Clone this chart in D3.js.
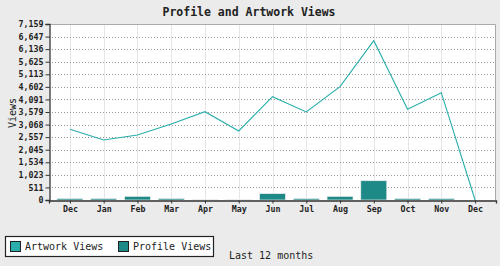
<!DOCTYPE html>
<html>
<head>
<meta charset="utf-8">
<script src="https://cdn.jsdelivr.net/npm/d3@7"></script>
<style>
  body { margin: 0; background: #ebebeb; }
  svg { display: block; font-family: "DejaVu Sans Mono", monospace; }
</style>
</head>
<body>
<div id="chart"></div>
<script>
// last 12 months, first and last are both December
var months = ["Dec", "Jan", "Feb", "Mar", "Apr", "May", "Jun", "Jul", "Aug", "Sep", "Oct", "Nov", "Dec"];
var artworkViews = [2876, 2441, 2644, 3092, 3593, 2807, 4203, 3580, 4610, 6481, 3689, 4366, 0];
var profileViews = [60, 60, 150, 60, 20, 20, 258, 60, 150, 785, 60, 60, 0];
var yTickValues = [0, 511, 1023, 1534, 2045, 2557, 3068, 3579, 4091, 4602, 5113, 5625, 6136, 6647, 7159];
var yMax = 7159;

var colors = { artwork: "#29aeab", profile: "#1d8a87" };

var width = 500, height = 266;
var margin = { top: 24, right: 4, bottom: 66, left: 49 };
var plotW = width - margin.left - margin.right;
var plotH = height - margin.top - margin.bottom;

var svg = d3.select("#chart").append("svg")
  .attr("width", width)
  .attr("height", height);

svg.append("text")
  .attr("x", 249)
  .attr("y", 16)
  .attr("text-anchor", "middle")
  .attr("font-size", "11.5px")
  .attr("font-weight", "bold")
  .attr("fill", "#222")
  .text("Profile and Artwork Views");

var g = svg.append("g").attr("transform", "translate(" + margin.left + "," + margin.top + ")");

var x = d3.scalePoint()
  .domain(d3.range(months.length))
  .range([0, plotW])
  .padding(0.62);

var y = d3.scaleLinear()
  .domain([0, yMax])
  .range([plotH, 0]);

g.append("rect")
  .attr("width", plotW)
  .attr("height", plotH)
  .attr("fill", "#fff");

// vertical grid
g.append("g").selectAll("line")
  .data(x.domain())
  .enter().append("line")
  .attr("x1", function(d) { return Math.round(x(d)) + 0.5; })
  .attr("x2", function(d) { return Math.round(x(d)) + 0.5; })
  .attr("y1", 0)
  .attr("y2", plotH)
  .attr("stroke", "#e6e6e6");

// horizontal dotted grid
g.append("g").selectAll("line")
  .data(yTickValues.slice(1, -1))
  .enter().append("line")
  .attr("x1", 0)
  .attr("x2", plotW)
  .attr("y1", function(d) { return Math.round(y(d)) + 0.5; })
  .attr("y2", function(d) { return Math.round(y(d)) + 0.5; })
  .attr("stroke", "#999")
  .attr("stroke-dasharray", "1,2");

// top and right border
g.append("path")
  .attr("d", "M0,0.5H" + (plotW - 0.5) + "V" + plotH)
  .attr("fill", "none")
  .attr("stroke", "#aaa");

var barW = 26;
g.append("g").selectAll("rect")
  .data(profileViews)
  .enter().append("rect")
  .attr("x", function(d, i) { return x(i) - barW / 2; })
  .attr("y", function(d) { return y(d); })
  .attr("width", barW)
  .attr("height", function(d) { return plotH - y(d); })
  .attr("fill", colors.profile)
  .attr("stroke", "#eee")
  .attr("stroke-width", 0.7);

var line = d3.line()
  .x(function(d, i) { return x(i); })
  .y(function(d) { return y(d); });

g.append("path")
  .datum(artworkViews)
  .attr("d", line)
  .attr("fill", "none")
  .attr("stroke", colors.artwork)
  .attr("stroke-width", 1.1);

var yAxis = g.append("g")
  .attr("transform", "translate(0.5,0)")
  .call(d3.axisLeft(y).tickValues(yTickValues).tickSize(4).tickPadding(2).tickFormat(d3.format(",")));
yAxis.selectAll("text")
  .attr("font-family", "DejaVu Sans Mono, monospace")
  .attr("font-size", "8.3px")
  .attr("font-weight", "bold")
  .attr("fill", "#222");

var xAxis = g.append("g")
  .attr("transform", "translate(0," + (plotH + 0.5) + ")")
  .call(d3.axisBottom(x).tickSize(3).tickPadding(3).tickFormat(function(i) { return months[i]; }));
xAxis.selectAll("text")
  .attr("font-family", "DejaVu Sans Mono, monospace")
  .attr("font-size", "8.3px")
  .attr("font-weight", "bold")
  .attr("fill", "#222");

[yAxis, xAxis].forEach(function(ax) {
  ax.select(".domain").attr("stroke", "#333").attr("stroke-width", 1.3);
  ax.selectAll(".tick line").attr("stroke", "#333");
});

svg.append("text")
  .attr("transform", "translate(16,113) rotate(-90)")
  .attr("text-anchor", "middle")
  .attr("font-size", "10px")
  .attr("fill", "#222")
  .text("Views");

// legend
var legend = svg.append("g");
legend.append("rect")
  .attr("x", 5.5).attr("y", 236.5)
  .attr("width", 208).attr("height", 20)
  .attr("fill", "#fff")
  .attr("stroke", "#222")
  .attr("stroke-width", 1.2);

var legendItems = [
  { label: "Artwork Views", color: colors.artwork, x: 10 },
  { label: "Profile Views", color: colors.profile, x: 118 }
];
legendItems.forEach(function(item) {
  legend.append("rect")
    .attr("x", item.x + 0.5).attr("y", 241.5)
    .attr("width", 10).attr("height", 10)
    .attr("fill", item.color)
    .attr("stroke", "#222");
  legend.append("text")
    .attr("x", item.x + 15)
    .attr("y", 250)
    .attr("font-size", "10px")
    .attr("fill", "#222")
    .text(item.label);
});

svg.append("text")
  .attr("x", 229)
  .attr("y", 259)
  .attr("font-size", "10px")
  .attr("fill", "#222")
  .text("Last 12 months");
</script>
</body>
</html>
